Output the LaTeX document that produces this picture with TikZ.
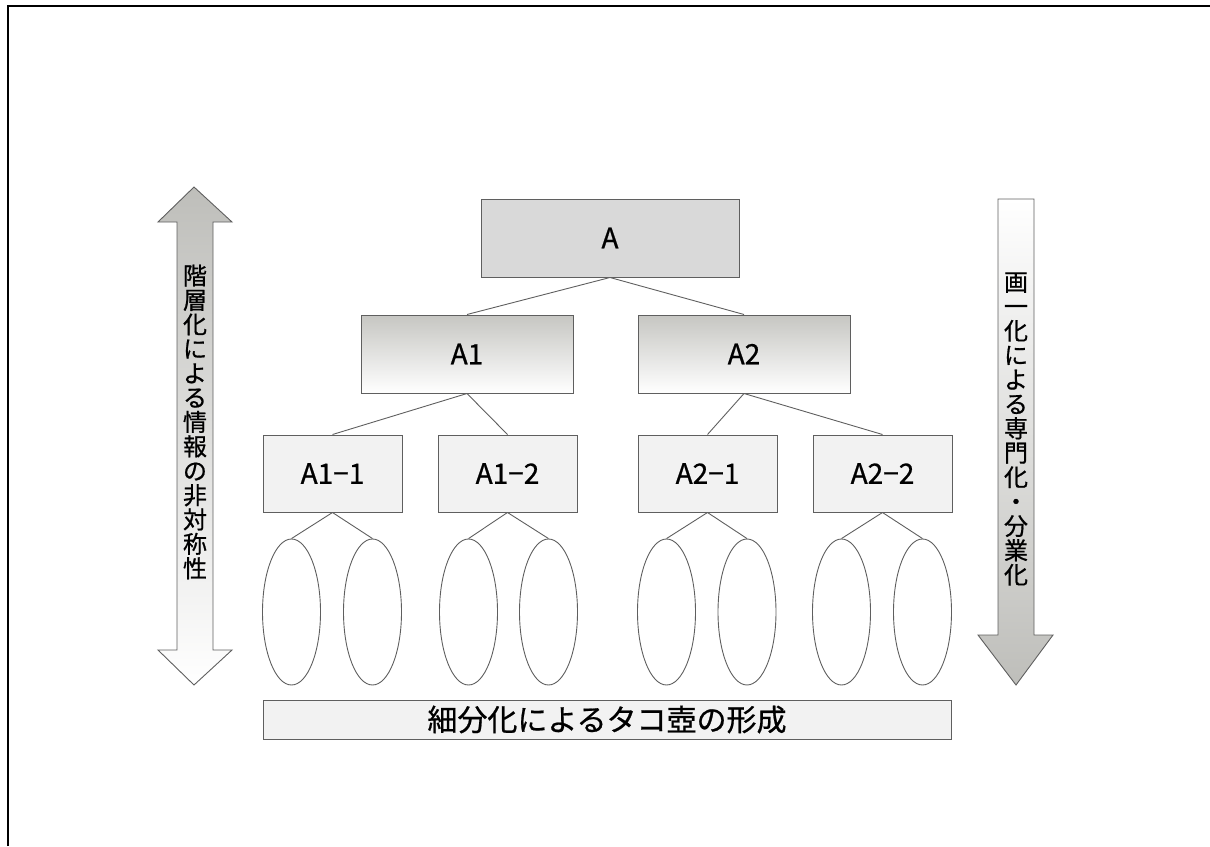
\documentclass[tikz,border=0pt]{standalone}
\usepackage{fontspec}
\setmainfont{Noto Sans CJK JP}[FakeBold=0.7]
\usetikzlibrary{shapes.geometric}
\definecolor{edgegray}{HTML}{5F5F5F}
\definecolor{fillA}{HTML}{D9D9D9}
\definecolor{fillleaf}{HTML}{F2F2F2}
\definecolor{gradtop}{HTML}{C6C6C2}
\definecolor{arrowgray}{HTML}{BEBEBA}
\begin{document}
\begin{tikzpicture}[x=1pt,y=-1pt,
  box/.style={draw=edgegray, line width=1pt, inner sep=0pt, font=\fontsize{28}{30}\selectfont},
  topbox/.style={box, fill=fillA, minimum width=258pt, minimum height=78pt},
  midbox/.style={box, top color=gradtop, bottom color=white, minimum width=212pt, minimum height=78pt},
  leafbox/.style={box, fill=fillleaf, minimum width=139pt, minimum height=77pt},
  pot/.style={draw=edgegray, line width=0.9pt, ellipse, inner sep=0pt, minimum width=58pt, minimum height=146pt},
  conn/.style={draw=edgegray, line width=0.9pt},
  vtext/.style={align=center, inner sep=0pt, font=\fontsize{24}{24.4}\selectfont},
]
\useasboundingbox (0,0) rectangle (1210,846);
\draw[line width=2pt] (7.5,846) -- (7.5,5.5) -- (1210,5.5);

% side arrows
\path[draw=edgegray, line width=0.9pt, top color=arrowgray, bottom color=white]
  (194,187) -- (232,222) -- (213,222) -- (213,650) -- (232,650) -- (194,685)
  -- (158,650) -- (177,650) -- (177,222) -- (158,222) -- cycle;
\path[draw=edgegray, line width=0.9pt, top color=white, bottom color=arrowgray]
  (998,199) -- (1034,199) -- (1034,635) -- (1053,635) -- (1016,685)
  -- (978,635) -- (998,635) -- cycle;
\node[vtext] (lt) at (195,422) {階\\層\\化\\に\\よ\\る\\情\\報\\の\\非\\対\\称\\性};
\node[vtext] (rt) at (1016,429) {画\\一\\化\\に\\よ\\る\\専\\門\\化\\・\\分\\業\\化};

% tree
\node[topbox] (A) at (610,238) {A};
\node[midbox] (A1) at (467,354) {A1};
\node[midbox] (A2) at (744,354) {A2};
\node[leafbox] (A11) at (332.5,473.5) {A1−1};
\node[leafbox] (A12) at (507.5,473.5) {A1−2};
\node[leafbox] (A21) at (707.5,473.5) {A2−1};
\node[leafbox] (A22) at (882.5,473.5) {A2−2};

\foreach \n/\x in {e1/291.5, e2/372.5, e3/468.5, e4/548.5, e5/666.5, e6/747, e7/841.5, e8/922.5}
  \node[pot] (\n) at (\x,612) {};

\draw[conn] (A.south) -- (A1.north);
\draw[conn] (A.south) -- (A2.north);
\draw[conn] (A1.south) -- (A11.north);
\draw[conn] (A1.south) -- (A12.north);
\draw[conn] (A2.south) -- (A21.north);
\draw[conn] (A2.south) -- (A22.north);
\draw[conn] (A11.south) -- (e1.north);
\draw[conn] (A11.south) -- (e2.north);
\draw[conn] (A12.south) -- (e3.north);
\draw[conn] (A12.south) -- (e4.north);
\draw[conn] (A21.south) -- (e5.north);
\draw[conn] (A21.south) -- (e6.north);
\draw[conn] (A22.south) -- (e7.north);
\draw[conn] (A22.south) -- (e8.north);

\node[box, fill=fillleaf, minimum width=688pt, minimum height=39pt, font=\fontsize{30}{32}\selectfont] (bar) at (607,719.5) {細分化によるタコ壺の形成};
\end{tikzpicture}
\end{document}
